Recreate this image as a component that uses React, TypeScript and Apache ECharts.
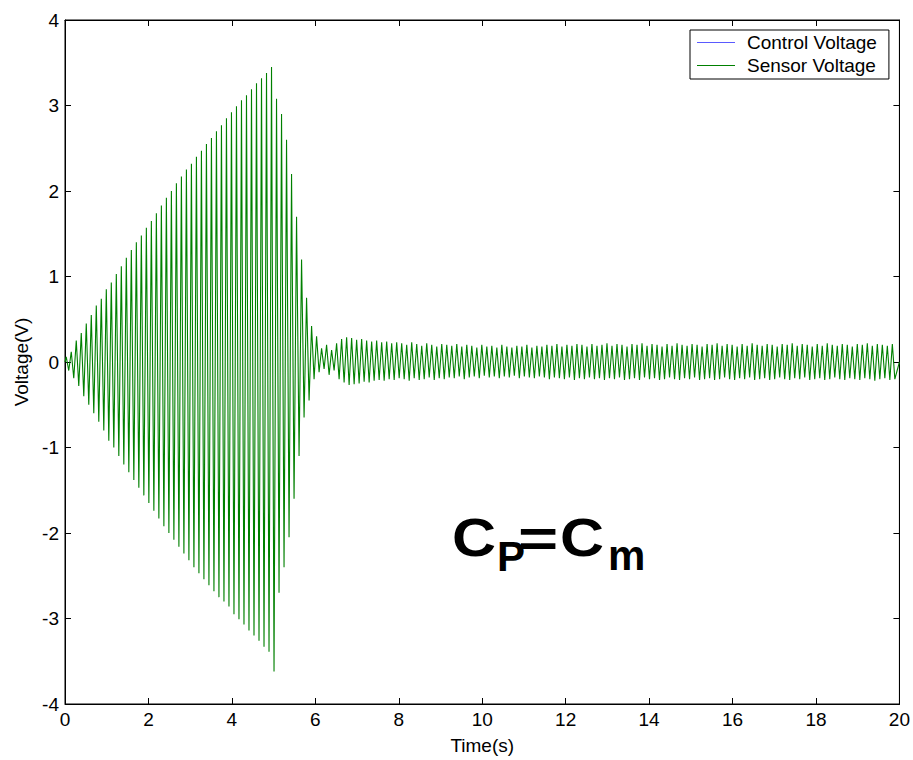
import React, { useEffect, useRef } from "react";
import * as echarts from "echarts";

// Length of one oscillation cycle of the sensor signal, in seconds.
const PERIOD = 0.12;

// Axis ranges and tick steps.
const X_MIN = 0;
const X_MAX = 20;
const X_STEP = 2;
const Y_MIN = -4;
const Y_MAX = 4;
const Y_STEP = 1;

// Peak values (V) of each cycle: first the positive, then the negative swing.
// Excitation phase, 0 – 5 s.
const growthUpper = [
  0.06, 0.12, 0.25, 0.34, 0.45, 0.55, 0.66, 0.74, 0.85, 0.93,
  1.03, 1.12, 1.22, 1.31, 1.4, 1.48, 1.57, 1.65, 1.74, 1.83,
  1.92, 2.0, 2.09, 2.17, 2.25, 2.32, 2.4, 2.47, 2.55, 2.62,
  2.7, 2.77, 2.85, 2.92, 2.99, 3.06, 3.12, 3.19, 3.26, 3.32,
  3.38, 3.45,
];
const growthLower = [
  -0.1, -0.19, -0.28, -0.4, -0.5, -0.6, -0.7, -0.8, -0.92, -1.0,
  -1.1, -1.2, -1.29, -1.38, -1.47, -1.56, -1.65, -1.74, -1.83, -1.92,
  -2.0, -2.08, -2.16, -2.24, -2.32, -2.4, -2.47, -2.54, -2.61, -2.68,
  -2.75, -2.8, -2.86, -2.95, -3.01, -3.07, -3.14, -3.2, -3.26, -3.33,
  -3.39, -3.62,
];
// Decay after the excitation stops, 5 – 6 s.
const decayUpper = [3.08, 2.9, 2.6, 2.2, 1.7, 1.2, 0.75, 0.42, 0.3];
const decayLower = [-2.7, -2.4, -2.05, -1.6, -1.1, -0.65, -0.45, -0.2, -0.12];
// Settling, 6 – 8 s.
const settleUpper = [
  0.16, 0.2, 0.14, 0.22, 0.27, 0.29, 0.28, 0.26, 0.27, 0.25,
  0.24, 0.25, 0.23, 0.24, 0.22, 0.23,
];
const settleLower = [
  -0.08, -0.15, -0.1, -0.2, -0.24, -0.27, -0.26, -0.25, -0.23, -0.24,
  -0.22, -0.21, -0.22, -0.2, -0.21, -0.19,
];
// Steady residual oscillation, 8 – 20 s.
const steadyUpper = [
  0.22, 0.2, 0.23, 0.21, 0.19, 0.22, 0.2, 0.18, 0.21, 0.2,
  0.19, 0.21, 0.18, 0.2, 0.19, 0.17, 0.2, 0.18, 0.19, 0.17,
  0.2, 0.18, 0.17, 0.19, 0.18, 0.2, 0.17, 0.19, 0.18, 0.2,
  0.19, 0.21, 0.18, 0.2, 0.19, 0.21, 0.2, 0.18, 0.21, 0.19,
  0.2, 0.22, 0.19, 0.21, 0.2, 0.18, 0.21, 0.2, 0.22, 0.19,
  0.21, 0.2, 0.18, 0.21, 0.19, 0.22, 0.2, 0.19, 0.21, 0.2,
  0.18, 0.21, 0.2, 0.22, 0.19, 0.21, 0.2, 0.18, 0.21, 0.19,
  0.22, 0.2, 0.19, 0.21, 0.2, 0.18, 0.21, 0.2, 0.22, 0.19,
  0.21, 0.2, 0.18, 0.21, 0.19, 0.22, 0.2, 0.19, 0.21, 0.2,
  0.18, 0.21, 0.2, 0.22, 0.19, 0.21, 0.2, 0.19, 0.21,
];
const steadyLower = [
  -0.2, -0.22, -0.19, -0.21, -0.2, -0.18, -0.21, -0.19, -0.2, -0.18,
  -0.19, -0.17, -0.2, -0.18, -0.17, -0.19, -0.16, -0.18, -0.17, -0.19,
  -0.17, -0.18, -0.16, -0.19, -0.17, -0.18, -0.19, -0.17, -0.18, -0.2,
  -0.18, -0.19, -0.2, -0.18, -0.21, -0.19, -0.2, -0.18, -0.2, -0.19,
  -0.21, -0.19, -0.2, -0.18, -0.21, -0.2, -0.19, -0.21, -0.18, -0.2,
  -0.19, -0.21, -0.2, -0.18, -0.2, -0.21, -0.19, -0.2, -0.18, -0.21,
  -0.2, -0.19, -0.21, -0.2, -0.18, -0.2, -0.21, -0.19, -0.2, -0.18,
  -0.21, -0.2, -0.19, -0.21, -0.2, -0.18, -0.2, -0.21, -0.19, -0.2,
  -0.18, -0.21, -0.2, -0.19, -0.21, -0.2, -0.18, -0.2, -0.21, -0.19,
  -0.2, -0.21, -0.19, -0.2, -0.22, -0.2, -0.19, -0.21, -0.2,
];

const upperPeaks = [...growthUpper, ...decayUpper, ...settleUpper, ...steadyUpper];
const lowerPeaks = [...growthLower, ...decayLower, ...settleLower, ...steadyLower];

// Connect the peaks cycle by cycle into the sensor trace.
function buildSensorTrace(): [number, number][] {
  const pts: [number, number][] = [[X_MIN, 0]];
  for (let k = 0; k < upperPeaks.length; k++) {
    const t0 = k * PERIOD;
    pts.push([t0 + PERIOD / 4, upperPeaks[k]]);
    pts.push([t0 + (3 * PERIOD) / 4, lowerPeaks[k]]);
  }
  pts.push([X_MAX, 0]);
  return pts;
}

const FONT = "'Liberation Sans', Arial, Helvetica, sans-serif";
const LEGEND_LINE = "path://M0,0L40,0L40,1L0,1Z";

// One glyph of the "CP=Cm" annotation, stretched horizontally from its left edge.
function glyph(text: string, x: number, y: number, size: number, stretch: number) {
  return {
    type: "text",
    x,
    y,
    scaleX: stretch,
    style: { text, font: `bold ${size}px ${FONT}`, fill: "#000", verticalAlign: "top", align: "left" },
  };
}

export default function App() {
  const ref = useRef<HTMLDivElement>(null);

  useEffect(() => {
    document.body.style.margin = "0";
    if (!ref.current) return;
    const chart = echarts.init(ref.current, undefined, { renderer: "svg" });

    const tickStyle = { inside: true, length: 6, lineStyle: { color: "#000", width: 1 } };
    const lineStyle = { show: true, onZero: false, lineStyle: { color: "#000", width: 1 } };

    chart.setOption({
      animation: false,
      backgroundColor: "#fff",
      grid: {
        left: 65,
        right: 10,
        top: 20,
        bottom: 53,
        show: true,
        borderColor: "#000",
        borderWidth: 1,
        backgroundColor: "#fff",
      },
      legend: {
        data: [
          { name: "Control Voltage", icon: LEGEND_LINE },
          { name: "Sensor Voltage", icon: LEGEND_LINE },
        ],
        orient: "vertical",
        left: 690,
        top: 30,
        itemWidth: 38,
        itemHeight: 1,
        itemGap: 4,
        padding: [3, 12, 4, 7],
        backgroundColor: "#fff",
        borderColor: "#000",
        borderWidth: 1,
        borderRadius: 0,
        textStyle: { fontFamily: FONT, fontSize: 19, color: "#000", padding: [0, 0, 0, 7] },
      },
      xAxis: [
        {
          type: "value",
          min: X_MIN,
          max: X_MAX,
          interval: X_STEP,
          name: "Time(s)",
          nameLocation: "middle",
          nameGap: 32,
          nameTextStyle: { fontFamily: FONT, fontSize: 19, color: "#000" },
          axisLine: lineStyle,
          axisTick: tickStyle,
          splitLine: { show: false },
          axisLabel: { fontFamily: FONT, fontSize: 19, color: "#000", margin: 6 },
        },
        {
          type: "value",
          position: "top",
          min: X_MIN,
          max: X_MAX,
          interval: X_STEP,
          axisLine: lineStyle,
          axisTick: tickStyle,
          splitLine: { show: false },
          axisLabel: { show: false },
        },
      ],
      yAxis: [
        {
          type: "value",
          min: Y_MIN,
          max: Y_MAX,
          interval: Y_STEP,
          name: "Voltage(V)",
          nameLocation: "middle",
          nameGap: 34,
          nameTextStyle: { fontFamily: FONT, fontSize: 19, color: "#000" },
          axisLine: lineStyle,
          axisTick: tickStyle,
          splitLine: { show: false },
          axisLabel: { fontFamily: FONT, fontSize: 19, color: "#000", margin: 6 },
        },
        {
          type: "value",
          position: "right",
          min: Y_MIN,
          max: Y_MAX,
          interval: Y_STEP,
          axisLine: lineStyle,
          axisTick: tickStyle,
          splitLine: { show: false },
          axisLabel: { show: false },
        },
      ],
      series: [
        {
          name: "Control Voltage",
          type: "line",
          data: [],
          symbol: "none",
          color: "#5a5aff",
          lineStyle: { width: 1, color: "#5a5aff" },
        },
        {
          name: "Sensor Voltage",
          type: "line",
          data: buildSensorTrace(),
          symbol: "none",
          color: "#008000",
          lineStyle: { width: 1.1, color: "#008000" },
        },
      ],
      graphic: [
        glyph("C", 452, 511, 53, 1.15),
        glyph("P", 497, 535, 42, 1),
        glyph("=", 518, 512, 53, 1.3),
        glyph("C", 560, 511, 53, 1.15),
        glyph("m", 608, 534, 42, 1),
      ],
    });

    return () => chart.dispose();
  }, []);

  return <div ref={ref} style={{ width: 913, height: 760 }} />;
}
